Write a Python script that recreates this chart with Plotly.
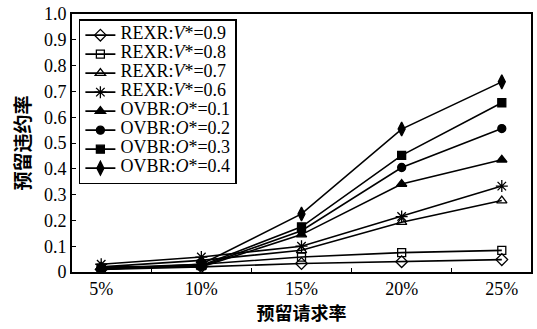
import plotly.graph_objects as go

# request rate categories (x axis)
request_rates = ["5%", "10%", "15%", "20%", "25%"]

# reservation violation rate per scheme
rexr_v09 = [0.010, 0.020, 0.033, 0.040, 0.048]
rexr_v08 = [0.015, 0.030, 0.058, 0.075, 0.084]
rexr_v07 = [0.020, 0.045, 0.084, 0.193, 0.277]
rexr_v06 = [0.030, 0.058, 0.100, 0.215, 0.333]
ovbr_o01 = [0.020, 0.020, 0.145, 0.341, 0.435]
ovbr_o02 = [0.015, 0.022, 0.160, 0.405, 0.556]
ovbr_o03 = [0.012, 0.025, 0.175, 0.452, 0.656]
ovbr_o04 = [0.010, 0.030, 0.225, 0.554, 0.737]

series_names = [
    "REXR:<i>V</i>*=0.9", "REXR:<i>V</i>*=0.8", "REXR:<i>V</i>*=0.7", "REXR:<i>V</i>*=0.6",
    "OVBR:<i>O</i>*=0.1", "OVBR:<i>O</i>*=0.2", "OVBR:<i>O</i>*=0.3", "OVBR:<i>O</i>*=0.4",
]
series_values = [rexr_v09, rexr_v08, rexr_v07, rexr_v06,
                 ovbr_o01, ovbr_o02, ovbr_o03, ovbr_o04]
symbols = ["diamond-open", "square-open", "triangle-up-open", "asterisk-open",
           "triangle-up", "circle", "square", "diamond-tall"]
sizes = [9, 8, 9, 10, 9, 8, 8, 10]

y_ticks = [i / 10 for i in range(11)]
y_tick_text = ["0"] + [f"{v:.1f}" for v in y_ticks[1:]]

serif = "Liberation Serif"
cjk = "Noto Sans CJK SC"

fig = go.Figure()
for name, vals, sym, sz in zip(series_names, series_values, symbols, sizes):
    fig.add_trace(go.Scatter(
        x=request_rates, y=vals,
        # legend rows are packed tightly: row height follows the small legend
        # font, while the label itself is drawn larger
        name=f'<span style="font-size:18px">{name}</span>',
        mode="lines+markers",
        line=dict(color="black", width=1.6),
        marker=dict(symbol=sym, size=sz, color="black",
                    line=dict(color="black", width=1.3)),
    ))

fig.update_layout(
    width=537, height=329,
    margin=dict(l=72, r=4, t=13, b=57),
    paper_bgcolor="white", plot_bgcolor="white",
    font=dict(family=serif, size=17, color="black"),
    showlegend=True,
    legend=dict(
        x=0.015, y=0.98, xanchor="left", yanchor="top",
        bgcolor="white", bordercolor="black", borderwidth=1.5,
        font=dict(family=serif, size=11, color="black"),
        itemwidth=30, tracegroupgap=0,
    ),
)
fig.update_xaxes(
    type="category", tickson="boundaries", ticks="inside", ticklen=4,
    tickwidth=1.2, tickcolor="black",
    showline=True, linecolor="black", linewidth=1.6, mirror=True,
    showgrid=False, zeroline=False,
    tickfont=dict(family=serif, size=18),
    title=dict(text="预留请求率", font=dict(family=cjk, size=18, weight="bold"), standoff=4),
)
fig.update_yaxes(
    range=[0, 1], tickvals=y_ticks, ticktext=y_tick_text,
    ticks="inside", ticklen=4, tickwidth=1.2, tickcolor="black",
    showline=True, linecolor="black", linewidth=1.6, mirror=True,
    showgrid=False, zeroline=False,
    tickfont=dict(family=serif, size=18),
    title=dict(text="预留违约率", font=dict(family=cjk, size=19, weight="bold"), standoff=8),
)

fig.write_html("out.html")
